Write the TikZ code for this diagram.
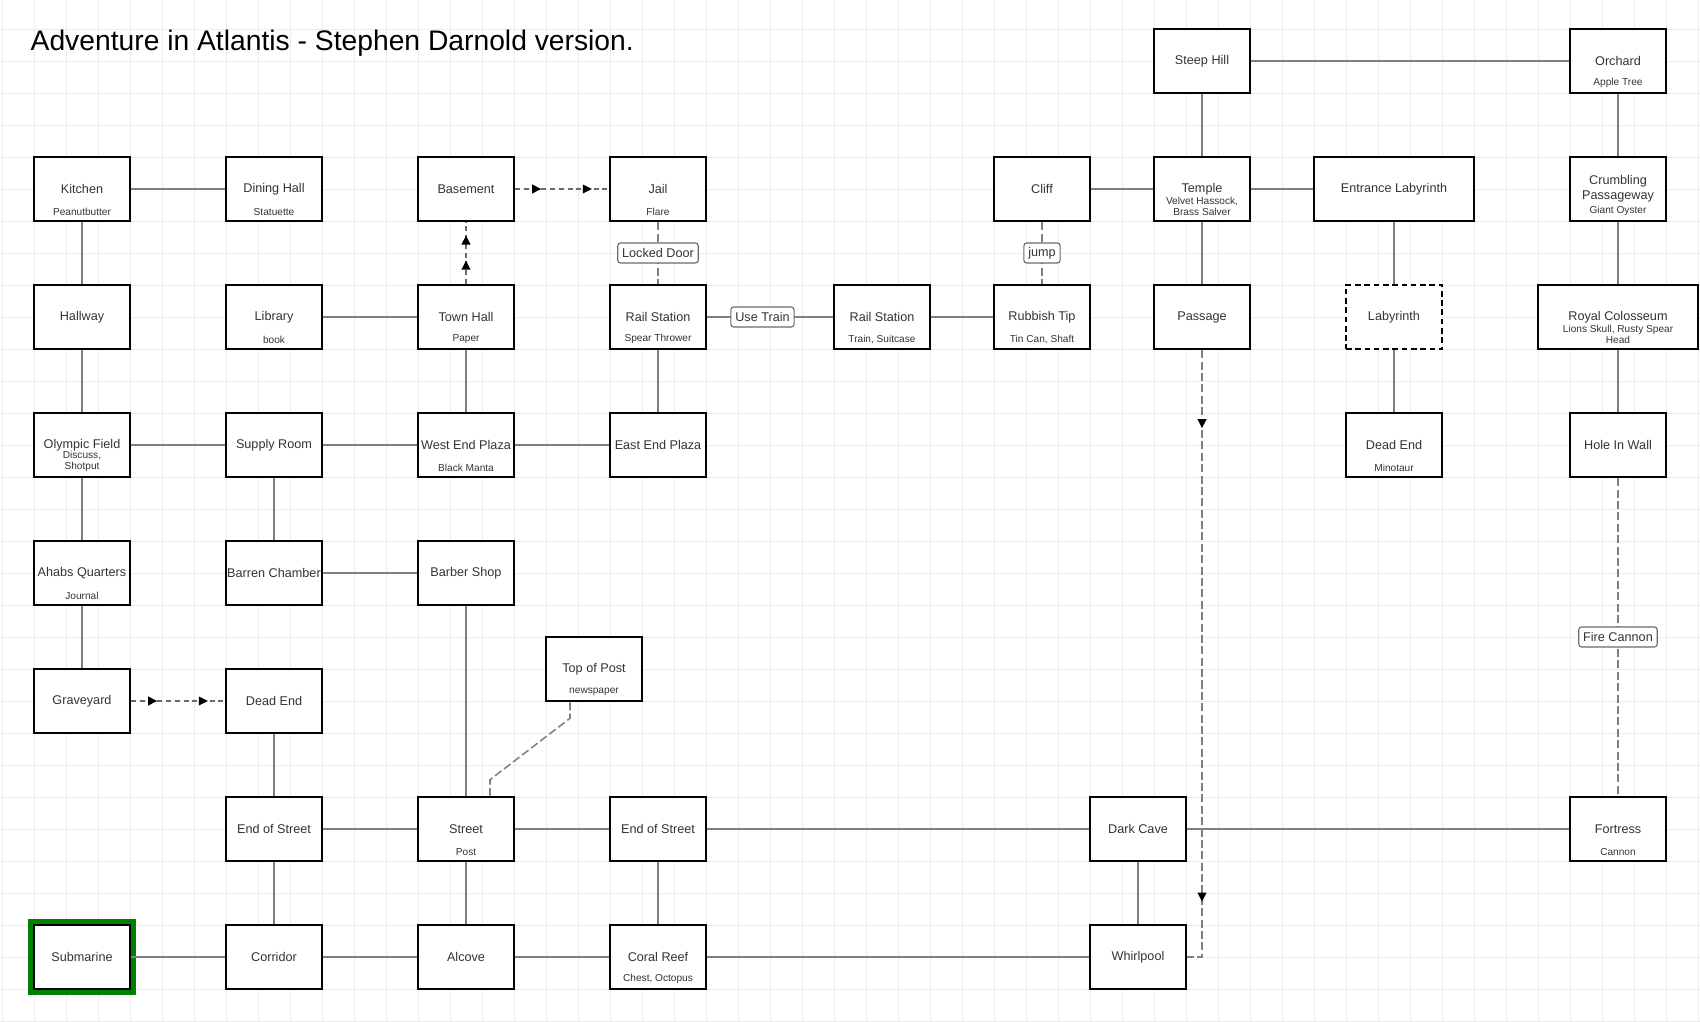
\documentclass[tikz,border=0pt]{standalone}
\usepackage{fontspec}
\setmainfont{Liberation Sans}
\usetikzlibrary{arrows.meta, decorations.markings}
\definecolor{c1}{HTML}{000000}
\definecolor{c2}{HTML}{808080}
\definecolor{c3}{HTML}{008000}
\definecolor{c4}{HTML}{6A6A6A}
\definecolor{gridcolor}{HTML}{EDEDED}
\definecolor{labelcolor}{HTML}{333333}

\begin{document}
\begin{tikzpicture}[x=0.8cm, y=-0.8cm,
    every node/.style={text=labelcolor},
    headline/.style={font=\fontsize{20.1}{23}\selectfont, text=c1, inner sep=0pt},
    gridline/.style={draw=gridcolor, line width=0.6pt},
    room/.style={rectangle, draw=c1, fill=white, line width=1.8pt,
                 minimum width=2.4cm, minimum height=1.6cm, inner sep=0pt,
                 font=\fontsize{9}{10.4}\selectfont, align=center},
    wideroom/.style={room, minimum width=4cm},
    mazeroom/.style={room, dash pattern=on 4pt off 2.6pt},
    startroom/.style={room, preaction={draw=c3, line width=9pt}},
    item/.style={font=\fontsize{7.2}{7.9}\selectfont, inner sep=0pt, outer sep=0pt, align=center},
    link/.style={draw=c2, line width=1.1pt},
    door/.style={link, dash pattern=on 5.7pt off 2.4pt},
    tag/.style={rectangle, rounded corners=2pt, draw=c4, line width=0.8pt, solid, fill=white,
                font=\fontsize{9}{10.4}\selectfont, inner xsep=0.11cm, inner ysep=0pt,
                minimum height=0.5cm},
    oneway/.style 2 args={draw=c4, line width=1.1pt, dash pattern=on 3.6pt off 2.6pt,
        postaction={decorate, decoration={markings,
            mark=at position #1 with {\arrow[c1]{Triangle[length=6.5pt, width=6.2pt]}},
            mark=at position #2 with {\arrow[c1]{Triangle[length=6.5pt, width=6.2pt]}}}}},
]
\useasboundingbox (-0.0625,0.09375) rectangle (53.0625,32.03125);

% background grid
\foreach \gx in {0,...,53}
    \draw[gridline] (\gx,0.09375) -- (\gx,32.03125);
\foreach \gy in {1,...,32}
    \draw[gridline] (-0.0625,\gy) -- (53.0625,\gy);

\node[headline, anchor=base west] (title) at (0.8875,1.6875)
    {Adventure in Atlantis - Stephen Darnold version.};

% rooms, row by row
\node[room] (steep) at (37.5,2) {Steep Hill};
\node[room] (orchard) at (50.5,2) {Orchard};

\node[room] (kitchen) at (2.5,6) {Kitchen};
\node[room] (dining) at (8.5,6) {Dining Hall};
\node[room] (basement) at (14.5,6) {Basement};
\node[room] (jail) at (20.5,6) {Jail};
\node[room] (cliff) at (32.5,6) {Cliff};
\node[room] (temple) at (37.5,6) {Temple};
\node[wideroom] (entrance) at (43.5,6) {Entrance Labyrinth};
\node[room] (crumbling) at (50.5,6) {Crumbling\\Passageway};

\node[room] (hallway) at (2.5,10) {Hallway};
\node[room] (library) at (8.5,10) {Library};
\node[room] (townhall) at (14.5,10) {Town Hall};
\node[room] (rail1) at (20.5,10) {Rail Station};
\node[room] (rail2) at (27.5,10) {Rail Station};
\node[room] (rubbish) at (32.5,10) {Rubbish Tip};
\node[room] (passage) at (37.5,10) {Passage};
\node[mazeroom] (labyrinth) at (43.5,10) {Labyrinth};
\node[wideroom] (colosseum) at (50.5,10) {Royal Colosseum};

\node[room] (olympic) at (2.5,14) {Olympic Field};
\node[room] (supply) at (8.5,14) {Supply Room};
\node[room] (westplaza) at (14.5,14) {West End Plaza};
\node[room] (eastplaza) at (20.5,14) {East End Plaza};
\node[room] (mazeend) at (43.5,14) {Dead End};
\node[room] (hole) at (50.5,14) {Hole In Wall};

\node[room] (ahab) at (2.5,18) {Ahabs Quarters};
\node[room] (barren) at (8.5,18) {Barren Chamber};
\node[room] (barber) at (14.5,18) {Barber Shop};

\node[room] (graveyard) at (2.5,22) {Graveyard};
\node[room] (deadend) at (8.5,22) {Dead End};
\node[room] (post) at (18.5,21) {Top of Post};

\node[room] (endwest) at (8.5,26) {End of Street};
\node[room] (street) at (14.5,26) {Street};
\node[room] (endeast) at (20.5,26) {End of Street};
\node[room] (darkcave) at (35.5,26) {Dark Cave};
\node[room] (fortress) at (50.5,26) {Fortress};

\node[startroom] (submarine) at (2.5,30) {Submarine};
\node[room] (corridor) at (8.5,30) {Corridor};
\node[room] (alcove) at (14.5,30) {Alcove};
\node[room] (coral) at (20.5,30) {Coral Reef};
\node[room] (whirlpool) at (35.5,30) {Whirlpool};

% items found in the rooms
\foreach \r/\t in {orchard/Apple Tree, kitchen/Peanutbutter, dining/Statuette, jail/Flare,
        temple/{Velvet Hassock,\\Brass Salver}, crumbling/Giant Oyster, library/book,
        townhall/Paper, rail1/Spear Thrower, rail2/{Train, Suitcase}, rubbish/{Tin Can, Shaft},
        colosseum/{Lions Skull, Rusty Spear\\Head}, olympic/{Discuss,\\Shotput},
        westplaza/Black Manta, mazeend/Minotaur, ahab/Journal, post/newspaper,
        street/Post, fortress/Cannon, coral/{Chest, Octopus}}
    \node[item, anchor=south] (\r-item) at ([yshift=0.16cm]\r.south) {\t};

% open passages
\foreach \a/\b in {kitchen/dining, kitchen/hallway, hallway/olympic, olympic/supply,
        olympic/ahab, ahab/graveyard, supply/westplaza, supply/barren, barren/barber,
        library/townhall, townhall/westplaza, westplaza/eastplaza, rail1/eastplaza,
        rail2/rubbish, cliff/temple, temple/entrance, steep/temple, steep/orchard,
        temple/passage, entrance/labyrinth, labyrinth/mazeend, orchard/crumbling,
        crumbling/colosseum, colosseum/hole, barber/street, deadend/endwest,
        endwest/street, street/endeast, endeast/darkcave, darkcave/fortress,
        darkcave/whirlpool, endwest/corridor, street/alcove, endeast/coral,
        submarine/corridor, corridor/alcove, alcove/coral, coral/whirlpool}
    \draw[link] (\a) -- (\b);

\draw[link] (rail1) -- node[tag, pos=0.44] (usetrain) {Use Train} (rail2);

% passages with a condition
\draw[door] (jail) -- node[tag] (lockeddoor) {Locked Door} (rail1);
\draw[door] (cliff) -- node[tag] (jump) {jump} (rubbish);
\draw[door] (hole) -- node[tag] (firecannon) {Fire Cannon} (fortress);
\draw[door] ([xshift=-0.6cm]post.south) -- ++(0,0.5)
    -- ([xshift=0.6cm, yshift=0.4cm]street.north) -- ([xshift=0.6cm]street.north);

% one way only
\draw[oneway={0.65cm}{-0.42cm}] (basement) -- (jail);
\draw[oneway={0.58cm}{-0.33cm}] (townhall) -- (basement);
\draw[oneway={0.65cm}{-0.42cm}] (graveyard) -- (deadend);
\draw[oneway={1.95cm}{-1.75cm}, draw=c2, dash pattern=on 5.7pt off 2.4pt]
    (passage) -- (passage |- whirlpool) -- (whirlpool);
\end{tikzpicture}
\end{document}
